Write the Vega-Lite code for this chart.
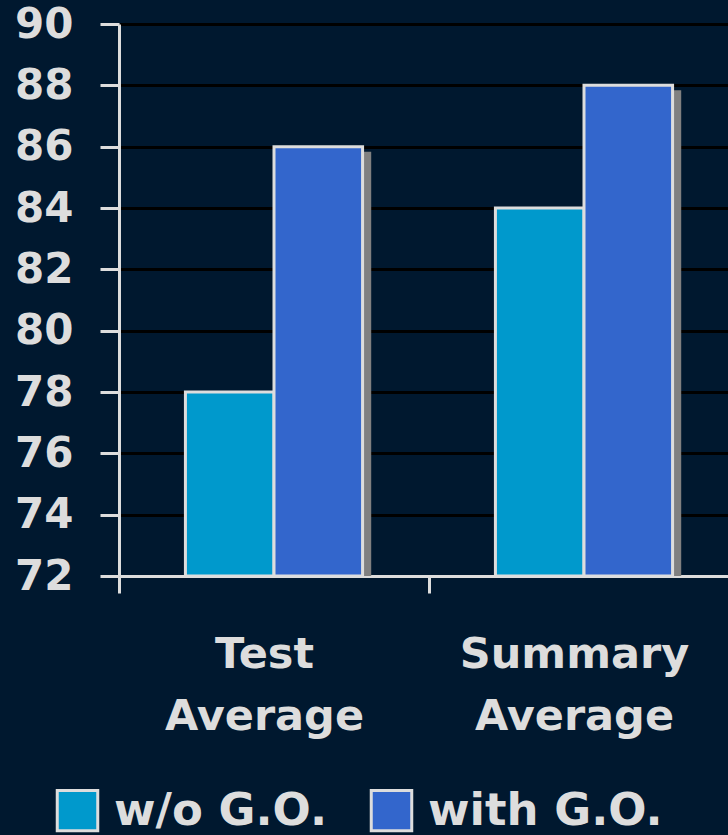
{
  "$schema": "https://vega.github.io/schema/vega-lite/v6.json",
  "autosize": "none",
  "width": 609,
  "height": 552,
  "padding": {"left": 119, "top": 24, "right": 0, "bottom": 259},
  "background": "#00182f",
  "config": {
    "view": {"stroke": null},
    "font": "DejaVu Sans"
  },
  "data": {
    "values": [
      {"cat": "Test Average", "grp": "w/o G.O.", "val": 78},
      {"cat": "Test Average", "grp": "with G.O.", "val": 86},
      {"cat": "Summary Average", "grp": "w/o G.O.", "val": 84},
      {"cat": "Summary Average", "grp": "with G.O.", "val": 88}
    ]
  },
  "resolve": {"scale": {"xOffset": "independent"}},
  "encoding": {
    "x": {
      "field": "cat",
      "type": "nominal",
      "sort": ["Test Average", "Summary Average"],
      "scale": {"range": [0, 620], "paddingInner": 0, "paddingOuter": 0},
      "axis": {
        "title": null,
        "labelAngle": 0,
        "labelExpr": "split(datum.label, ' ')",
        "labelFont": "DejaVu Sans",
        "labelFontWeight": "bold",
        "labelFontSize": 43,
        "labelLineHeight": 62,
        "labelColor": "#dddddd",
        "labelPadding": 40,
        "labelBaseline": "top",
        "labelLimit": 0,
        "labelOffset": -10,
        "tickBand": "extent",
        "tickColor": "#dddddd",
        "tickWidth": 3,
        "tickSize": 17,
        "domainColor": "#dddddd",
        "domainWidth": 3,
        "grid": false
      }
    },
    "y": {
      "field": "val",
      "type": "quantitative",
      "scale": {"domain": [72, 90], "nice": false, "zero": false},
      "axis": {
        "title": null,
        "values": [72, 74, 76, 78, 80, 82, 84, 86, 88, 90],
        "labelFont": "DejaVu Sans",
        "labelFontWeight": "bold",
        "labelFontSize": 42,
        "labelColor": "#dddddd",
        "labelPadding": 27,
        "tickColor": "#dddddd",
        "tickWidth": 3,
        "tickSize": 19,
        "domainColor": "#dddddd",
        "domainWidth": 3,
        "grid": true,
        "gridColor": "#000000",
        "gridWidth": 3
      }
    },
    "y2": {"datum": 72}
  },
  "layer": [
    {
      "mark": {"type": "bar", "color": "#808080", "yOffset": 5},
      "encoding": {
        "xOffset": {
          "field": "grp",
          "type": "nominal",
          "scale": {"paddingOuter": 0.75, "paddingInner": 0, "align": 0.565}
        }
      }
    },
    {
      "mark": {"type": "bar", "stroke": "#dddddd", "strokeWidth": 3},
      "encoding": {
        "xOffset": {
          "field": "grp",
          "type": "nominal",
          "scale": {"paddingOuter": 0.75, "paddingInner": 0}
        },
        "color": {
          "field": "grp",
          "type": "nominal",
          "scale": {"domain": ["w/o G.O.", "with G.O."], "range": ["#0099cc", "#3366cc"]},
          "legend": {
            "title": null,
            "orient": "none",
            "direction": "horizontal",
            "legendX": -64,
            "legendY": 764,
            "symbolType": "square",
            "symbolSize": 1640,
            "symbolStrokeColor": "#dddddd",
            "symbolStrokeWidth": 3,
            "symbolOpacity": 1,
            "labelFont": "DejaVu Sans",
            "labelFontWeight": "bold",
            "labelFontSize": 45,
            "labelColor": "#dddddd",
            "labelOffset": 14,
            "columnPadding": 38,
            "labelLimit": 400
          }
        }
      }
    }
  ]
}
